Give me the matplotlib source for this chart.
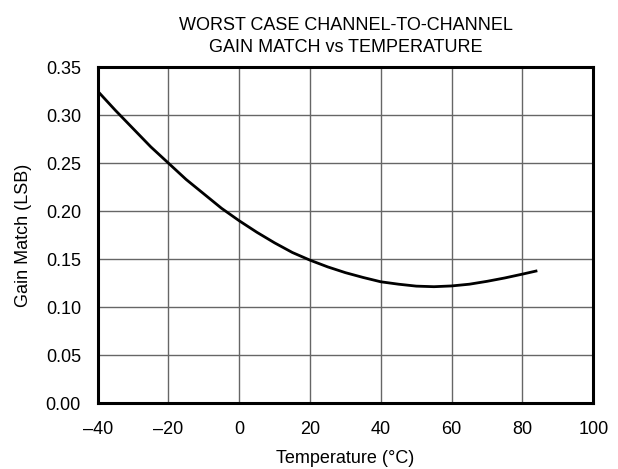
import matplotlib
matplotlib.use("Agg")
import matplotlib.pyplot as plt

plt.rcParams['font.family'] = ['Liberation Sans', 'DejaVu Sans']

temperature = [-40, -35, -30, -25, -20, -15, -10, -5, 0, 5, 10, 15, 20, 25, 30,
               35, 40, 45, 50, 55, 60, 65, 70, 75, 80, 84.2]
gain_match = [0.325, 0.305, 0.286, 0.267, 0.250, 0.233, 0.218, 0.203, 0.190, 0.178,
              0.167, 0.157, 0.149, 0.142, 0.136, 0.131, 0.1265, 0.124, 0.122, 0.1214,
              0.1222, 0.124, 0.127, 0.1305, 0.1345, 0.138]

x_ticks = [-40, -20, 0, 20, 40, 60, 80, 100]
x_labels = ['\u201340', '\u201320', '0', '20', '40', '60', '80', '100']
y_ticks = [0.00, 0.05, 0.10, 0.15, 0.20, 0.25, 0.30, 0.35]

fig = plt.figure(figsize=(6.18, 4.69), dpi=100)
ax = fig.add_axes([0.158, 0.140, 0.802, 0.717])

ax.plot(temperature, gain_match, color='black', linewidth=2.0, zorder=3,
        solid_capstyle='butt')

ax.set_xlim(-40, 100)
ax.set_ylim(0, 0.35)
ax.set_xticks(x_ticks)
ax.set_xticklabels(x_labels)
ax.set_yticks(y_ticks)
ax.set_yticklabels([f'{v:.2f}' for v in y_ticks])
ax.tick_params(axis='y', length=0, labelsize=13, pad=12, colors='black')
ax.tick_params(axis='x', length=0, labelsize=13, pad=13, colors='black')
ax.grid(True, color='#666666', linewidth=1.0)

for s in ax.spines.values():
    s.set_linewidth(2.2)
    s.set_color('black')

ax.set_xlabel('Temperature (\u00b0C)', fontsize=13, labelpad=8)
ax.set_ylabel('Gain Match (LSB)', fontsize=13, labelpad=10)
ax.set_title('WORST CASE CHANNEL-TO-CHANNEL\nGAIN MATCH vs TEMPERATURE', fontsize=13,
             pad=11, linespacing=1.35)

fig.savefig('out.png', dpi=100)
